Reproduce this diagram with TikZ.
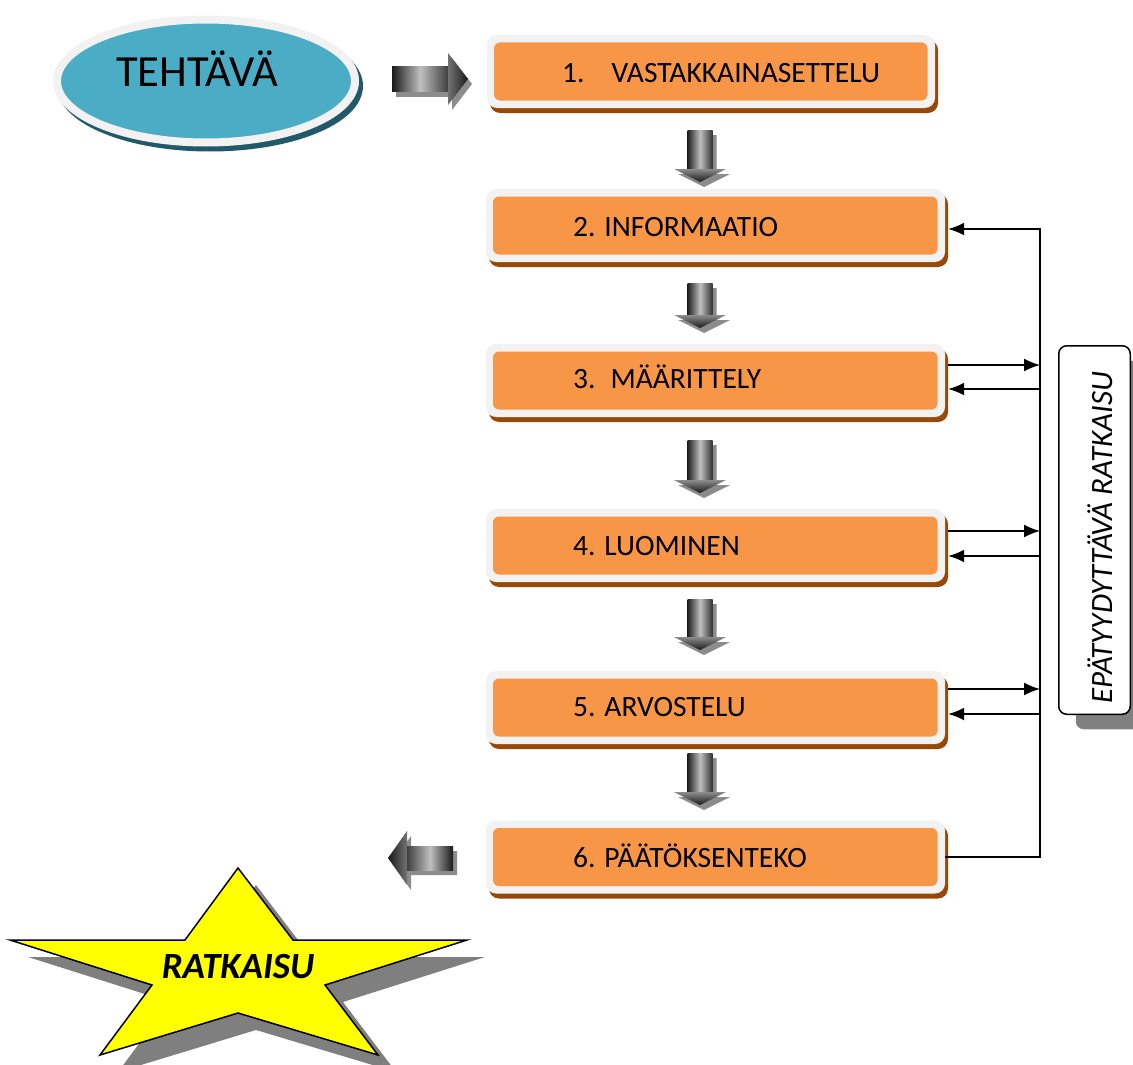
\documentclass[tikz,border=0pt]{standalone}
\usepackage{fontspec}
\setmainfont{Carlito}
\usetikzlibrary{arrows.meta,shadows,calc,shapes.geometric}

\definecolor{stepfill}{HTML}{F79646}
\definecolor{framegray}{HTML}{F2F2F2}
\definecolor{boxshadow}{HTML}{984807}
\definecolor{taskfill}{HTML}{4BACC6}
\definecolor{taskshadow}{HTML}{215968}
\definecolor{noteshadow}{HTML}{808080}
\definecolor{starfill}{HTML}{FFFF00}
\definecolor{starshadow}{HTML}{7F7F7F}
\definecolor{blockshadow}{HTML}{8C8C8C}

% shaded block arrow pointing down: x, top y, tip y
\newcommand\blkdown[3]{%
  \fill[blockshadow] (#1-12.5+4,#2+5) -- (#1+12.5+4,#2+5) -- (#1+12.5+4,#3-13+5)
    -- (#1+26+4,#3-13+5) -- (#1+4,#3+5) -- (#1-26+4,#3-13+5) -- (#1-12.5+4,#3-13+5) -- cycle;
  \shade[left color=black!88, right color=black!80, middle color=black!25]
    (#1-12.5,#2) rectangle (#1+12.5,#3-13);
  \shade[top color=black!45, bottom color=black!90]
    (#1-26,#3-13) -- (#1+26,#3-13) -- (#1,#3) -- cycle;
}

\begin{document}
\begin{tikzpicture}[x=1pt,y=-1pt,
  stepbox/.style={fill=framegray, rounded corners=10pt, minimum width=459pt,
    minimum height=73pt, inner sep=0pt,
    drop shadow={shadow xshift=3pt, shadow yshift=-5pt, fill=boxshadow, opacity=1},
    path picture={\fill[stepfill, rounded corners=6pt]
      ([shift={(7pt,-7.5pt)}]path picture bounding box.north west) rectangle
      ([shift={(-7.5pt,7.5pt)}]path picture bounding box.south east);}},
  steptext/.style={font=\fontsize{29.5}{35}\selectfont, inner sep=0pt, anchor=base west},
  fb/.style={draw=black, line width=1.6pt},
  fbarrow/.style={fb, -{Latex[length=16pt,width=13pt]}},
]
\useasboundingbox (0,0) rectangle (1133,1065);

% starting task
\node[ellipse, fill=taskfill, draw=framegray, line width=8pt, inner sep=0pt,
  minimum width=298pt, minimum height=123pt,
  preaction={fill=taskshadow, draw=taskshadow, transform canvas={shift={(4pt,-5pt)}}}]
  (task) at (206,81) {};
\node[font=\fontsize{44.5}{50}\selectfont, inner sep=0pt, anchor=base west]
  (tasktext) at (116,87) {TEHTÄVÄ};

% right block arrow from the task
\fill[blockshadow] (396,72) -- (452,72) -- (452,58) -- (472,84) -- (452,110) -- (452,97) -- (396,97) -- cycle;
\shade[left color=black!90, right color=black!75, middle color=black!25] (392,67) rectangle (448,92);
\shade[left color=black!55, right color=black!90] (448,53) -- (468,79) -- (448,105) -- cycle;

% process steps
\node[stepbox, minimum width=448pt] (b1) at (711,71.5) {};
\node[stepbox] (b2) at (715.5,225.5) {};
\node[stepbox] (b3) at (715.5,380.5) {};
\node[stepbox] (b4) at (715.5,545.5) {};
\node[stepbox] (b5) at (715.5,707.5) {};
\node[stepbox] (b6) at (715.5,857) {};

\node[steptext] (t1) at (562,83) {1.\hspace{27pt}VASTAKKAINASETTELU};
\node[steptext] (t2) at (573,236) {2. INFORMAATIO};
\node[steptext] (t3) at (573,388) {3.\hspace{15pt}MÄÄRITTELY};
\node[steptext] (t4) at (573,555) {4. LUOMINEN};
\node[steptext] (t5) at (573,716) {5. ARVOSTELU};
\node[steptext] (t6) at (573,867) {6. PÄÄTÖKSENTEKO};

% block arrows between steps
\blkdown{700}{130}{182}
\blkdown{700}{283}{328}
\blkdown{700}{440}{493}
\blkdown{700}{599}{650}
\blkdown{700}{753}{805}

% left block arrow towards the solution
\fill[blockshadow] (392,863) -- (411,836) -- (411,851) -- (457,851) -- (457,875) -- (411,875) -- (411,890) -- cycle;
\shade[left color=black!90, right color=black!55] (388,858) -- (407,831) -- (407,885) -- cycle;
\shade[left color=black!75, right color=black!90, middle color=black!25] (407,846) rectangle (453,870);

% feedback bus
\coordinate (busTop) at (1040,229);
\coordinate (o3) at (1040,365);
\coordinate (i3) at (1040,389);
\coordinate (o4) at (1040,531);
\coordinate (i4) at (1040,556);
\coordinate (o5) at (1040,689);
\coordinate (i5) at (1040,714);

\draw[fbarrow] (b6.east) -| (busTop) -- ([xshift=3pt]b2.east |- busTop);
\draw[fbarrow] ([xshift=3pt]b3.east |- o3) -- (o3);
\draw[fbarrow] (i3) -- ([xshift=3pt]b3.east |- i3);
\draw[fbarrow] ([xshift=3pt]b4.east |- o4) -- (o4);
\draw[fbarrow] (i4) -- ([xshift=3pt]b4.east |- i4);
\draw[fbarrow] ([xshift=3pt]b5.east |- o5) -- (o5);
\draw[fbarrow] (i5) -- ([xshift=3pt]b5.east |- i5);

% note on the right
\node[draw=black, line width=1.5pt, fill=white, rounded corners=8pt,
  minimum width=71.5pt, minimum height=368.5pt, inner sep=0pt,
  drop shadow={shadow xshift=17pt, shadow yshift=-15pt, fill=noteshadow, opacity=1}]
  (note) at (1094.5,530) {};
\node[rotate=90, font=\fontsize{31}{36}\selectfont\itshape, inner sep=0pt, anchor=base west]
  (notetext) at (1112,704) {EPÄTYYDYTTÄVÄ RATKAISU};

% solution star
\fill[starshadow, shift={(18,17)}] (238,868) -- (293,940) -- (467,940) -- (325,985) -- (378,1055)
  -- (238,1013) -- (100,1055) -- (152,985) -- (10,940) -- (185,940) -- cycle;
\filldraw[fill=starfill, draw=black, line width=1.5pt, line join=miter]
  (238,868) -- (293,940) -- (467,940) -- (325,985) -- (378,1055)
  -- (238,1013) -- (100,1055) -- (152,985) -- (10,940) -- (185,940) -- cycle;
\node[font=\fontsize{37}{42}\selectfont\bfseries\itshape, inner sep=0pt, anchor=base]
  (solution) at (238,978) {RATKAISU};
\end{tikzpicture}
\end{document}
